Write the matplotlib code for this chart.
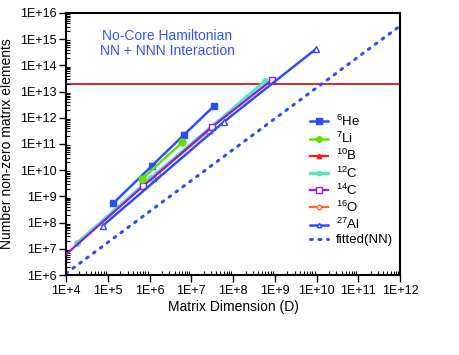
import matplotlib
matplotlib.use('Agg')
import matplotlib.pyplot as plt
from matplotlib.ticker import LogLocator, FixedLocator, NullFormatter

plt.rcParams['font.family'] = ['Liberation Sans', 'DejaVu Sans']
plt.rcParams['mathtext.fontset'] = 'custom'
plt.rcParams['mathtext.rm'] = 'Liberation Sans'
plt.rcParams['mathtext.it'] = 'Liberation Sans:italic'

# data (D = matrix dimension, N = non-zero elements)
he6_D = [1.36e5, 1.13e6, 6.8e6, 3.5e7]
he6_N = [5.5e8, 1.45e10, 2.3e11, 2.8e12]
li7_D = [6.5e5, 6.1e6]
li7_N = [4.5e9, 1.16e11]
b10_D = [1.2e6, 2.6e7]
b10_N = [5.1e9, 3.4e11]
c12_D = [1.8e4, 1.07e6, 5.9e8]
c12_N = [1.6e7, 4.9e9, 2.5e13]
c14_D = [5.0e3, 7.1e5, 3.2e7, 8.5e8]
c14_N = [2.3e6, 2.5e9, 4.6e11, 2.75e13]
o16_D = [1.5e6, 2.6e7]
o16_N = [6.9e9, 3.2e11]
al27_D = [7.6e4, 6.1e7, 9.8e9]
al27_N = [7.6e7, 7.1e11, 4.3e14]
fit_D = [1e4, 1e12]
fit_N = [1.15e6, 3.2e15]
limit_N = 2e13

fig = plt.figure(figsize=(4.6, 3.55), dpi=100)
ax = fig.add_axes([66/460, 1-275/355, 334/460, 262/355])

ax.plot(b10_D, b10_N, color='#ff1a1a', lw=1.6, marker='^', ms=4, label='$^{10}$B', zorder=2)
ax.plot(o16_D, o16_N, color='#ff6a1a', lw=1.6, marker='o', ms=4, mfc='white', label='$^{16}$O', zorder=2.1)
ax.plot(he6_D, he6_N, color='#2a4dff', lw=1.8, marker='s', ms=5, label='$^{6}$He', zorder=3)
ax.plot(li7_D, li7_N, color='#66e000', lw=1.8, marker='o', ms=5, label='$^{7}$Li', zorder=3)
ax.plot(c12_D, c12_N, color='#55e8b8', lw=2.4, marker='o', ms=4, label='$^{12}$C', zorder=2.5)
ax.plot(c14_D, c14_N, color='#9a1adc', lw=1.6, marker='s', ms=5, mfc='white', label='$^{14}$C', zorder=2.6)
ax.plot(al27_D, al27_N, color='#2a4dff', lw=1.8, marker='^', ms=4, mfc='white', label='$^{27}$Al', zorder=2.7)
ax.plot(fit_D, fit_N, color='#2a4dff', lw=2.2, linestyle=(0, (0.6, 2.2)), dash_capstyle='round',
        label='fitted(NN)', zorder=2)
ax.axhline(limit_N, color='#e00000', lw=1.2, zorder=1)

ax.set_xscale('log')
ax.set_yscale('log')
ax.set_xlim(1e4, 1e12)
ax.set_ylim(1e6, 1e16)

xt = [10.0**k for k in range(4, 13)]
yt = [10.0**k for k in range(6, 17)]
ax.xaxis.set_major_locator(FixedLocator(xt))
ax.yaxis.set_major_locator(FixedLocator(yt))
ax.set_xticklabels(['1E+%d' % k for k in range(4, 13)])
ax.set_yticklabels(['1E+%d' % k for k in range(6, 17)])
ax.xaxis.set_minor_locator(LogLocator(base=10, subs=range(2, 10), numticks=20))
ax.yaxis.set_minor_locator(LogLocator(base=10, subs=range(2, 10), numticks=20))
ax.xaxis.set_minor_formatter(NullFormatter())
ax.yaxis.set_minor_formatter(NullFormatter())
ax.tick_params(which='major', direction='out', length=5, width=1, labelsize=9, pad=2)
ax.tick_params(which='minor', direction='in', length=3, width=0.8)
for s in ax.spines.values():
    s.set_linewidth(1.5)

ax.set_xlabel('Matrix Dimension (D)', fontsize=10, labelpad=2)
ax.set_ylabel('Number non-zero matrix elements', fontsize=10, labelpad=4)

fig.text(167/460, 1-43.5/355, 'No-Core Hamiltonian\nNN + NNN Interaction',
         color='#3355ff', fontsize=10, ha='center', va='center', linespacing=1.05)

handles, labels = ax.get_legend_handles_labels()
order = ['$^{6}$He', '$^{7}$Li', '$^{10}$B', '$^{12}$C', '$^{14}$C', '$^{16}$O', '$^{27}$Al', 'fitted(NN)']
hs = [handles[labels.index(l)] for l in order]
leg = ax.legend(hs, order, loc='upper left', bbox_to_anchor=(298/460, 1-102/355),
                bbox_transform=fig.transFigure, frameon=False, fontsize=9.5,
                handlelength=1.4, handletextpad=0.6, labelspacing=0.15, markerscale=0.8)

fig.savefig('out.png', dpi=100)
